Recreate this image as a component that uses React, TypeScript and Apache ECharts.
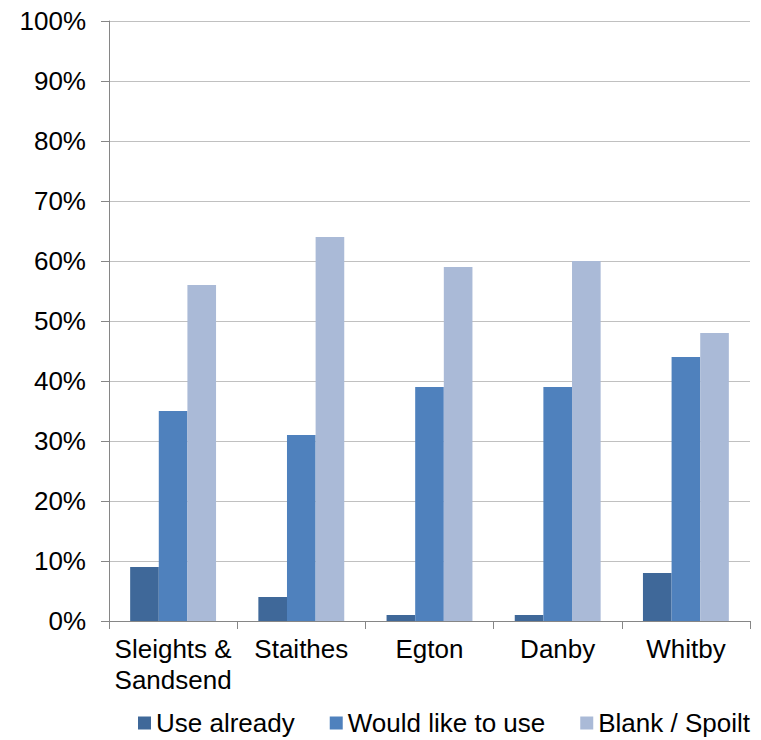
import React, { useEffect, useRef } from "react";
import * as echarts from "echarts";

const categories = ["Sleights &\nSandsend", "Staithes", "Egton", "Danby", "Whitby"];
const seriesNames = ["Use already", "Would like to use", "Blank / Spoilt"];
const useAlready = [9, 4, 1, 1, 8];
const wouldLikeToUse = [35, 31, 39, 39, 44];
const blankSpoilt = [56, 64, 59, 60, 48];
const colors = ["#3F6899", "#4F81BD", "#AABAD7"];

const FONT = "'Liberation Sans', Arial, sans-serif";

export default function App() {
  const ref = useRef<HTMLDivElement>(null);

  useEffect(() => {
    if (!ref.current) return;
    const chart = echarts.init(ref.current, undefined, { renderer: "svg" });
    const values = [useAlready, wouldLikeToUse, blankSpoilt];
    chart.setOption({
      animation: false,
      textStyle: { fontFamily: FONT },
      grid: { left: 109, right: 11, top: 21, bottom: 119, containLabel: false },
      legend: {
        left: 133,
        top: 705,
        itemWidth: 13,
        itemHeight: 13,
        itemGap: 35,
        icon: "rect",
        textStyle: { fontFamily: FONT, fontSize: 26, lineHeight: 26, color: "#000" },
        data: seriesNames,
      },
      xAxis: {
        type: "category",
        data: categories,
        boundaryGap: true,
        axisLine: { lineStyle: { color: "#868686", width: 1 } },
        axisTick: { show: true, length: 8, lineStyle: { color: "#868686" } },
        axisLabel: {
          fontFamily: FONT,
          fontSize: 26,
          lineHeight: 31,
          color: "#000",
          margin: 12,
          interval: 0,
        },
      },
      yAxis: {
        type: "value",
        min: 0,
        max: 100,
        interval: 10,
        axisLine: { show: true, lineStyle: { color: "#868686", width: 1 } },
        axisTick: { show: true, length: 8, lineStyle: { color: "#868686" } },
        splitLine: { lineStyle: { color: "#c0c0c0", width: 1.2 } },
        axisLabel: {
          fontFamily: FONT,
          fontSize: 26,
          color: "#000",
          margin: 23,
          formatter: "{value}%",
        },
      },
      series: seriesNames.map((name, i) => ({
        name,
        type: "bar",
        data: values[i],
        barGap: "0%",
        barCategoryGap: "33%",
        itemStyle: { color: colors[i] },
      })),
    });
    return () => chart.dispose();
  }, []);

  return (
    <div
      ref={ref}
      style={{ position: "absolute", left: 0, top: 0, width: 761, height: 740 }}
    />
  );
}
